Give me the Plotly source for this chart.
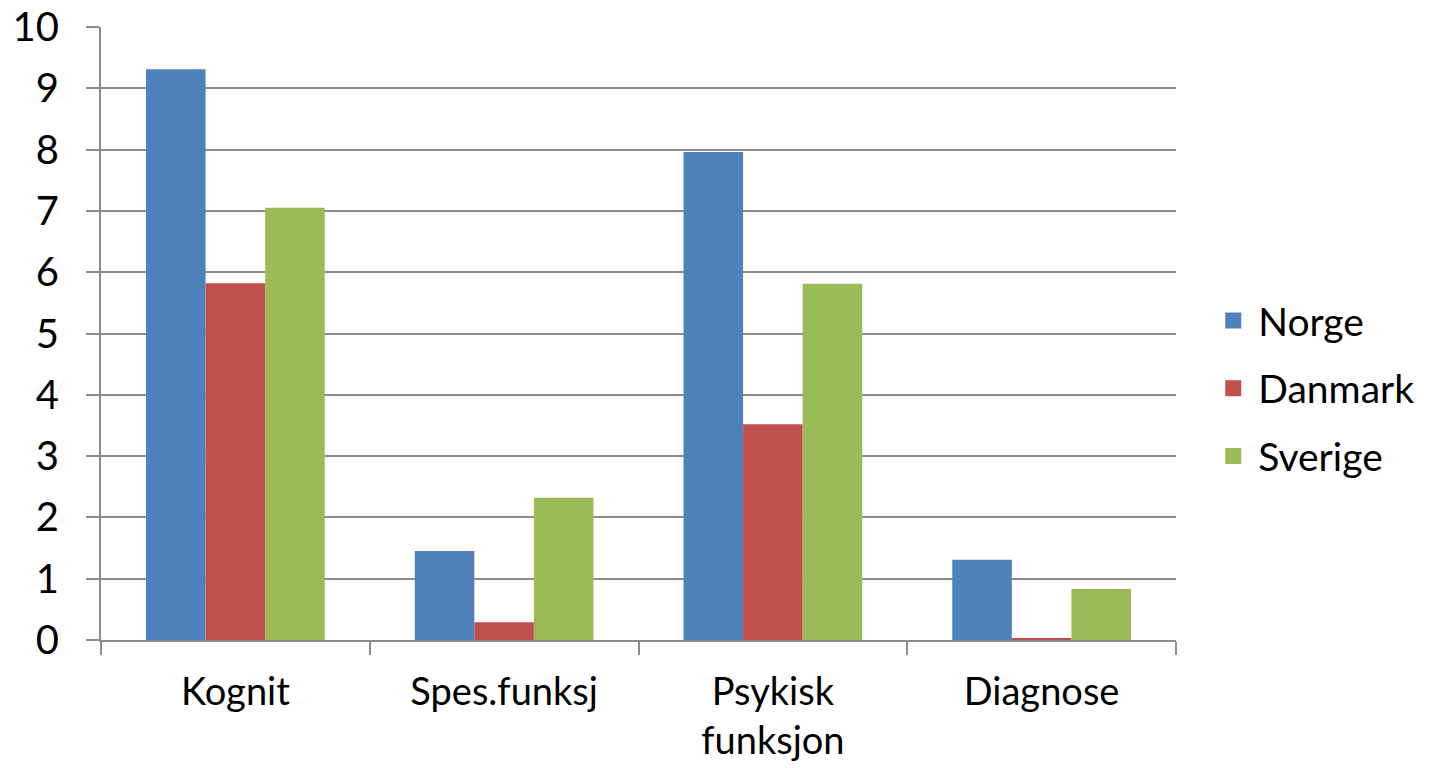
import plotly.graph_objects as go

categories = ["Kognit", "Spes.funksj", "Psykisk<br>funksjon", "Diagnose"]
series_names = ["Norge", "Danmark", "Sverige"]
norge = [9.31, 1.45, 7.96, 1.31]
danmark = [5.82, 0.29, 3.52, 0.02]
sverige = [7.05, 2.32, 5.81, 0.83]
y_ticks = [0, 1, 2, 3, 4, 5, 6, 7, 8, 9, 10]

FONT = "Lato"
GRID = "#8c8c8c"
COLORS = ["#4F81BD", "#C0504D", "#9BBB59"]

fig = go.Figure()
for name, vals, col in zip(series_names, [norge, danmark, sverige], COLORS):
    fig.add_trace(go.Bar(name=name, x=categories, y=vals, showlegend=False,
                         legendgroup=name,
                         marker=dict(color=col, line=dict(width=0))))
# legend entries with larger square swatches
for name, col in zip(series_names, COLORS):
    fig.add_trace(go.Scatter(name=name, x=[None], y=[None], mode="markers",
                             legendgroup=name,
                             marker=dict(symbol="square", size=16, color=col)))

fig.update_layout(
    width=1441, height=768,
    barmode="group", bargap=0.335, bargroupgap=0,
    paper_bgcolor="white", plot_bgcolor="white",
    margin=dict(l=101, r=265, t=27, b=128, autoexpand=False),
    font=dict(family=FONT, size=39, color="black"),
    legend=dict(x=1.03, xanchor="left", y=0.41, yanchor="middle",
                font=dict(size=39), itemsizing="trace",
                tracegroupgap=14, bgcolor="rgba(0,0,0,0)",
                itemwidth=40),
    showlegend=True,
)
fig.update_yaxes(range=[0, 10], tickvals=y_ticks, ticktext=[str(v) for v in y_ticks],
                 showgrid=True, gridcolor=GRID, gridwidth=2,
                 showline=True, linecolor=GRID, linewidth=2,
                 ticks="outside", ticklen=13, tickcolor=GRID, tickwidth=2,
                 ticklabelstandoff=19, ticklabeloverflow="allow",
                 zeroline=False, automargin=False,
                 tickfont=dict(size=40))
fig.update_xaxes(showline=True, linecolor=GRID, linewidth=2,
                 ticks="outside", tickson="boundaries", ticklen=13,
                 tickcolor=GRID, tickwidth=2, ticklabelstandoff=17,
                 ticklabeloverflow="allow",
                 showgrid=False, automargin=False, tickfont=dict(size=38))

fig.write_html("out.html",
               config={"displayModeBar": False},
               post_script="document.body.style.margin='0';")
